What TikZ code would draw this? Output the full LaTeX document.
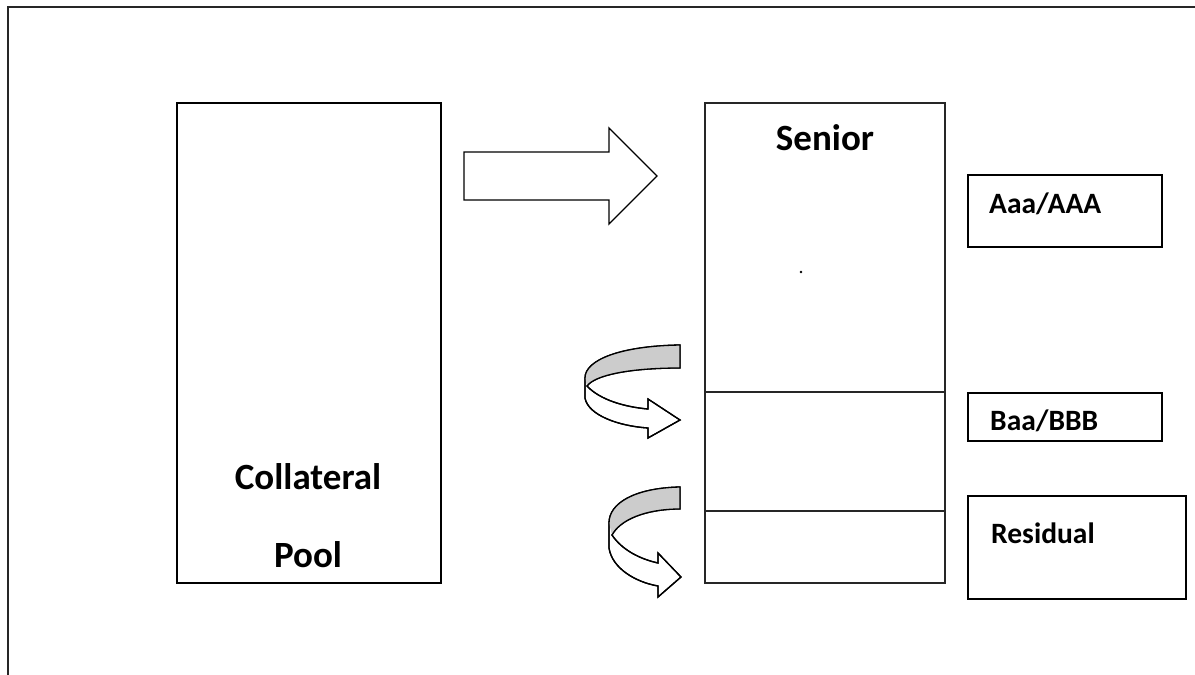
\documentclass[tikz,border=0pt]{standalone}
\usepackage{fontspec}
\setmainfont{Carlito}
\begin{document}
\begin{tikzpicture}[x=1pt,y=-1pt,
  box/.style={draw=black,line width=1.6pt,inner sep=0pt,outer sep=0pt},
  tranche/.style={draw=black!85,line width=1.3pt,inner sep=0pt,outer sep=0pt},
  bigtxt/.style={font=\bfseries\fontsize{37}{40}\selectfont,inner sep=0pt},
  ratetxt/.style={font=\bfseries\fontsize{29.5}{32}\selectfont,inner sep=0pt,anchor=base west},
  shape arrow/.style={draw=black,line width=1.3pt,line join=miter,fill=white},
  band/.style={fill=black!20}
]
\useasboundingbox (0,0) rectangle (1195,675);
% frame
\draw[line width=1.1pt,black!85] (8,675) -- (8,7) -- (1195,7);
% collateral pool
\node[box,minimum width=264pt,minimum height=480pt,anchor=north west] (pool) at (177,103) {};
\node[bigtxt,anchor=base] (coll) at (308,489) {Collateral};
\node[bigtxt,anchor=base] (pooltxt) at (308,567) {Pool};
% big block arrow
\draw[shape arrow] (464,152) -- (609,152) -- (609,128) -- (657,176) -- (609,224) -- (609,200) -- (464,200) -- cycle;
% tranche column
\node[tranche,minimum width=240pt,minimum height=289pt,anchor=north west] (senior) at (705,103) {};
\node[tranche,minimum width=240pt,minimum height=119pt,anchor=north west] (mezz) at (705,392) {};
\node[tranche,minimum width=240pt,minimum height=72pt,anchor=north west] (resid) at (705,511) {};
\node[bigtxt,anchor=base] (seniortxt) at (825,150) {Senior};
\fill (801,272) circle (1.3pt);
% rating boxes
\node[box,minimum width=194pt,minimum height=72pt,anchor=north west] (aaa) at (968,175) {};
\node[ratetxt] (aaatxt) at (989,213) {Aaa/AAA};
\node[box,minimum width=194pt,minimum height=48pt,anchor=north west] (baa) at (968,393) {};
\node[ratetxt] (baatxt) at (990,430) {Baa/BBB};
\node[box,minimum width=218pt,minimum height=103pt,anchor=north west] (res) at (968,496) {};
\node[ratetxt] (restxt) at (991,543) {Residual};
% curved arrow 1
\path[shape arrow] (680,345) -- (680,368) .. controls (630,368) and (595,375) .. (587,386)
  .. controls (600,400) and (625,407) .. (648,409) -- (648,399) -- (680,420) -- (648,438) -- (648,428)
  .. controls (618,426) and (588,415) .. (585,398) -- (585,378)
  .. controls (585,360) and (620,346) .. (680,345) -- cycle;
\fill[band] (680,345) -- (680,368) .. controls (630,368) and (595,375) .. (587,386) -- (585,378)
  .. controls (585,360) and (620,346) .. (680,345) -- cycle;
\draw[shape arrow,fill=none] (680,345) -- (680,368) .. controls (630,368) and (595,375) .. (587,386)
  .. controls (600,400) and (625,407) .. (648,409) -- (648,399) -- (680,420) -- (648,438) -- (648,428)
  .. controls (618,426) and (588,415) .. (585,398) -- (585,378)
  .. controls (585,360) and (620,346) .. (680,345) -- cycle;
% curved arrow 2
\path[shape arrow] (680,487) -- (680,509) .. controls (645,509) and (620,520) .. (612,535)
  .. controls (622,550) and (640,559) .. (658,563) -- (658,553) -- (681,577) -- (658,597) -- (658,586)
  .. controls (635,582) and (612,568) .. (609,548) -- (609,523)
  .. controls (609,503) and (635,488) .. (680,487) -- cycle;
\fill[band] (680,487) -- (680,509) .. controls (645,509) and (620,520) .. (612,535) -- (609,523)
  .. controls (609,503) and (635,488) .. (680,487) -- cycle;
\draw[shape arrow,fill=none] (680,487) -- (680,509) .. controls (645,509) and (620,520) .. (612,535)
  .. controls (622,550) and (640,559) .. (658,563) -- (658,553) -- (681,577) -- (658,597) -- (658,586)
  .. controls (635,582) and (612,568) .. (609,548) -- (609,523)
  .. controls (609,503) and (635,488) .. (680,487) -- cycle;
\end{tikzpicture}
\end{document}
